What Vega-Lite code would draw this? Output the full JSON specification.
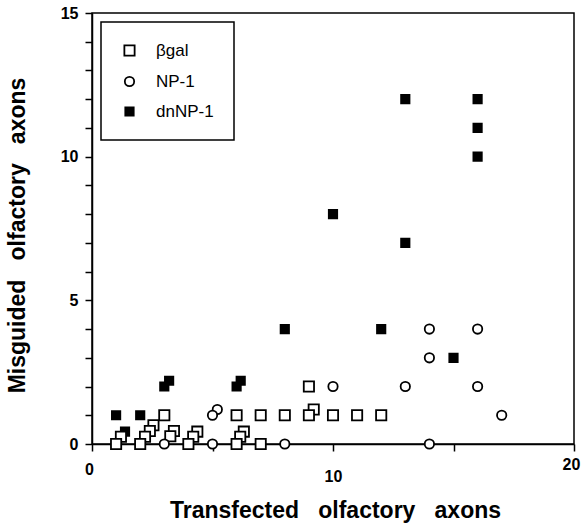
{
  "$schema": "https://vega.github.io/schema/vega-lite/v6.json",
  "width": 482,
  "height": 431,
  "autosize": {"type": "none"},
  "padding": {"left": 92, "top": 13, "right": 11, "bottom": 79},
  "background": "white",
  "config": {
    "font": "Liberation Sans",
    "view": {"stroke": "black", "strokeWidth": 1.5},
    "axis": {
      "domainColor": "black",
      "domainWidth": 1.5,
      "tickColor": "black",
      "tickWidth": 1.5,
      "tickSize": 7,
      "grid": false,
      "labelFont": "Liberation Sans",
      "labelFontWeight": "bold",
      "labelFontSize": 16,
      "labelColor": "black",
      "titleFont": "Liberation Sans",
      "titleFontWeight": "bold",
      "titleFontSize": 23,
      "titleColor": "black"
    },
    "legend": {
      "orient": "none",
      "legendX": 9,
      "legendY": 9,
      "strokeColor": "black",
      "strokeWidth": 1.5,
      "fillColor": "white",
      "padding": 20,
      "rowPadding": 12,
      "labelFont": "Liberation Sans",
      "labelFontSize": 17,
      "labelColor": "black",
      "labelOffset": 18,
      "symbolStrokeColor": "black",
      "symbolStrokeWidth": 1.8
    }
  },
  "data": {
    "values": [
      {"series": "dnNP-1", "x": 1.37, "y": 0.43},
      {"series": "dnNP-1", "x": 1, "y": 1},
      {"series": "dnNP-1", "x": 2, "y": 1},
      {"series": "dnNP-1", "x": 3.2, "y": 2.2},
      {"series": "dnNP-1", "x": 3, "y": 2},
      {"series": "dnNP-1", "x": 6.17, "y": 2.2},
      {"series": "dnNP-1", "x": 6, "y": 2},
      {"series": "dnNP-1", "x": 8, "y": 4},
      {"series": "dnNP-1", "x": 10, "y": 8},
      {"series": "dnNP-1", "x": 12, "y": 4},
      {"series": "dnNP-1", "x": 13, "y": 7},
      {"series": "dnNP-1", "x": 13, "y": 12},
      {"series": "dnNP-1", "x": 15, "y": 3},
      {"series": "dnNP-1", "x": 16, "y": 10},
      {"series": "dnNP-1", "x": 16, "y": 11},
      {"series": "dnNP-1", "x": 16, "y": 12},
      {"series": "βgal", "x": 2.55, "y": 0.65},
      {"series": "βgal", "x": 2.4, "y": 0.45},
      {"series": "βgal", "x": 2.2, "y": 0.25},
      {"series": "βgal", "x": 1.2, "y": 0.25},
      {"series": "βgal", "x": 3.4, "y": 0.45},
      {"series": "βgal", "x": 3.25, "y": 0.27},
      {"series": "βgal", "x": 4.37, "y": 0.43},
      {"series": "βgal", "x": 4.2, "y": 0.25},
      {"series": "βgal", "x": 6.3, "y": 0.43},
      {"series": "βgal", "x": 6.15, "y": 0.25},
      {"series": "βgal", "x": 1, "y": 0},
      {"series": "βgal", "x": 2, "y": 0},
      {"series": "βgal", "x": 4, "y": 0},
      {"series": "βgal", "x": 6, "y": 0},
      {"series": "βgal", "x": 7, "y": 0},
      {"series": "βgal", "x": 3, "y": 1},
      {"series": "βgal", "x": 6, "y": 1},
      {"series": "βgal", "x": 7, "y": 1},
      {"series": "βgal", "x": 8, "y": 1},
      {"series": "βgal", "x": 9.2, "y": 1.2},
      {"series": "βgal", "x": 9, "y": 1},
      {"series": "βgal", "x": 10, "y": 1},
      {"series": "βgal", "x": 11, "y": 1},
      {"series": "βgal", "x": 12, "y": 1},
      {"series": "βgal", "x": 9, "y": 2},
      {"series": "NP-1", "x": 3, "y": 0},
      {"series": "NP-1", "x": 5, "y": 0},
      {"series": "NP-1", "x": 8, "y": 0},
      {"series": "NP-1", "x": 14, "y": 0},
      {"series": "NP-1", "x": 5.2, "y": 1.2},
      {"series": "NP-1", "x": 5, "y": 1},
      {"series": "NP-1", "x": 10, "y": 2},
      {"series": "NP-1", "x": 13, "y": 2},
      {"series": "NP-1", "x": 16, "y": 2},
      {"series": "NP-1", "x": 14, "y": 3},
      {"series": "NP-1", "x": 14, "y": 4},
      {"series": "NP-1", "x": 16, "y": 4},
      {"series": "NP-1", "x": 17, "y": 1}
    ]
  },
  "mark": {"type": "point", "filled": true, "strokeWidth": 1.8, "opacity": 1},
  "encoding": {
    "x": {
      "field": "x",
      "type": "quantitative",
      "scale": {"domain": [0, 20], "nice": false, "zero": false},
      "axis": {
        "title": "Transfected\u00a0\u00a0\u00a0olfactory\u00a0\u00a0\u00a0axons",
        "values": [0, 5, 10, 15, 20],
        "labelExpr": "datum.value % 10 === 0 ? datum.label : ''",
        "labelPadding": {"condition": [{"test": "datum.value === 10", "value": 17}, {"test": "datum.value === 20", "value": 5}], "value": 10},
        "labelOffset": {"condition": {"test": "datum.value === 10", "value": 0}, "value": -3},
        "labelFlush": false,
        "labelBaseline": "top",
        "titleX": 243,
        "titleY": 66,
        "titleBaseline": "middle",
        "titleAnchor": "middle"
      }
    },
    "y": {
      "field": "y",
      "type": "quantitative",
      "scale": {"domain": [0, 15], "nice": false, "zero": false},
      "axis": {
        "title": "Misguided\u00a0\u00a0\u00a0olfactory\u00a0\u00a0\u00a0axons",
        "values": [0, 1, 2, 3, 4, 5, 6, 7, 8, 9, 10, 11, 12, 13, 14, 15],
        "labelExpr": "datum.value % 5 === 0 ? datum.label : ''",
        "labelPadding": 7,
        "labelFlush": false,
        "titleX": -75,
        "titleY": 222,
        "titleBaseline": "middle",
        "titleAnchor": "middle",
        "titleAngle": -90
      }
    },
    "fill": {
      "field": "series",
      "type": "nominal",
      "scale": {"domain": ["βgal", "NP-1", "dnNP-1"], "range": ["white", "white", "black"]},
      "legend": {"title": null}
    },
    "stroke": {
      "field": "series",
      "type": "nominal",
      "scale": {"domain": ["βgal", "NP-1", "dnNP-1"], "range": ["black", "black", "black"]},
      "legend": {"title": null}
    },
    "shape": {
      "field": "series",
      "type": "nominal",
      "scale": {"domain": ["βgal", "NP-1", "dnNP-1"], "range": ["square", "circle", "square"]},
      "legend": {"title": null}
    },
    "size": {
      "field": "series",
      "type": "nominal",
      "scale": {"domain": ["βgal", "NP-1", "dnNP-1"], "range": [105, 70, 115]},
      "legend": {"title": null}
    }
  }
}
